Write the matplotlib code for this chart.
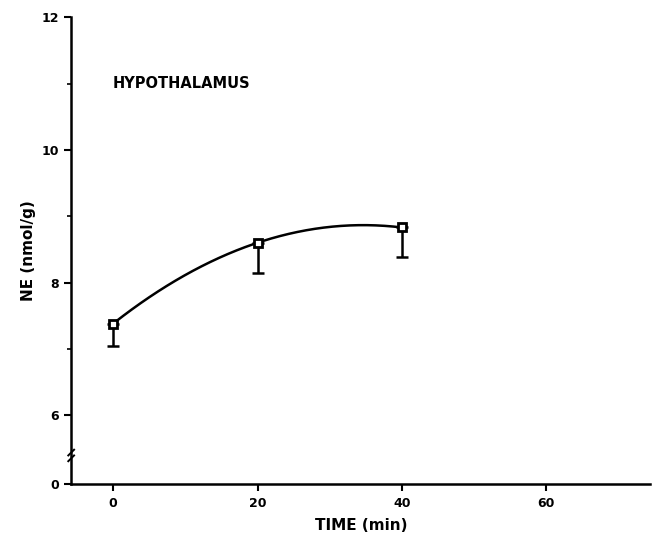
import numpy as np
import matplotlib
matplotlib.use("Agg")
import matplotlib.pyplot as plt

# data
time_min = [0, 20, 40]
ne_mean = [7.38, 8.60, 8.83]
ne_lower = [7.04, 8.14, 8.38]

x_ticks = [0, 20, 40, 60]
y_ticks = [0, 6, 8, 10, 12]

plt.rcParams['font.family'] = ['DejaVu Sans']
plt.rcParams['font.weight'] = 'bold'


# broken y axis: 0..6 squeezed into a short stretch
def fwd(y):
    y = np.asarray(y, dtype=float)
    return np.where(y >= 6, y, 6 - (6 - y) * 1.04 / 6)


def inv(v):
    v = np.asarray(v, dtype=float)
    return np.where(v >= 6, v, 6 - (6 - v) * 6 / 1.04)


fig = plt.figure(figsize=(6.53, 5.38), dpi=100)
ax = fig.add_axes([0.109, 0.100, 0.887, 0.868])
ax.set_yscale('function', functions=(fwd, inv))

# smooth fitted curve through the means
coef = np.polyfit(time_min, ne_mean, 2)
xs = np.linspace(0, 40, 200)
ax.plot(xs, np.polyval(coef, xs), color='black', lw=1.8)

err_down = np.array(ne_mean) - np.array(ne_lower)
ax.errorbar(time_min, ne_mean, yerr=[err_down, np.zeros(3)], fmt='none',
            ecolor='black', elinewidth=1.8, capsize=4, capthick=1.8)
ax.plot(time_min, ne_mean, 's', ms=6, mfc='white', mec='black', mew=2)

ax.set_xlim(-5.8, 74.4)
ax.set_ylim(0, 12)
ax.set_xticks(x_ticks)
ax.set_yticks(y_ticks)
ax.set_yticks([7, 9, 11], minor=True)
ax.set_xticklabels([str(t) for t in x_ticks], fontsize=9, fontweight='bold')
ax.set_yticklabels([str(t) for t in y_ticks], fontsize=9, fontweight='bold')
ax.tick_params(axis='both', which='major', length=5, width=1.5, pad=4)
ax.tick_params(axis='y', which='minor', length=3, width=1.2)

for s in ['top', 'right']:
    ax.spines[s].set_visible(False)
for s in ['left', 'bottom']:
    ax.spines[s].set_linewidth(1.8)

# axis break mark
ax.plot([-6.2, -5.4], [2.0, 2.5], color='black', lw=1.4, clip_on=False)
ax.plot([-6.2, -5.4], [2.5, 3.0], color='black', lw=1.4, clip_on=False)

ax.text(0, 11.0, 'HYPOTHALAMUS', fontsize=10.5, fontweight='bold',
        ha='left', va='center')
ax.set_xlabel('TIME (min)', fontsize=11, fontweight='bold', labelpad=6)
ax.set_ylabel('NE (nmol/g)', fontsize=11, fontweight='bold', labelpad=4)

fig.savefig('out.png', dpi=100)
